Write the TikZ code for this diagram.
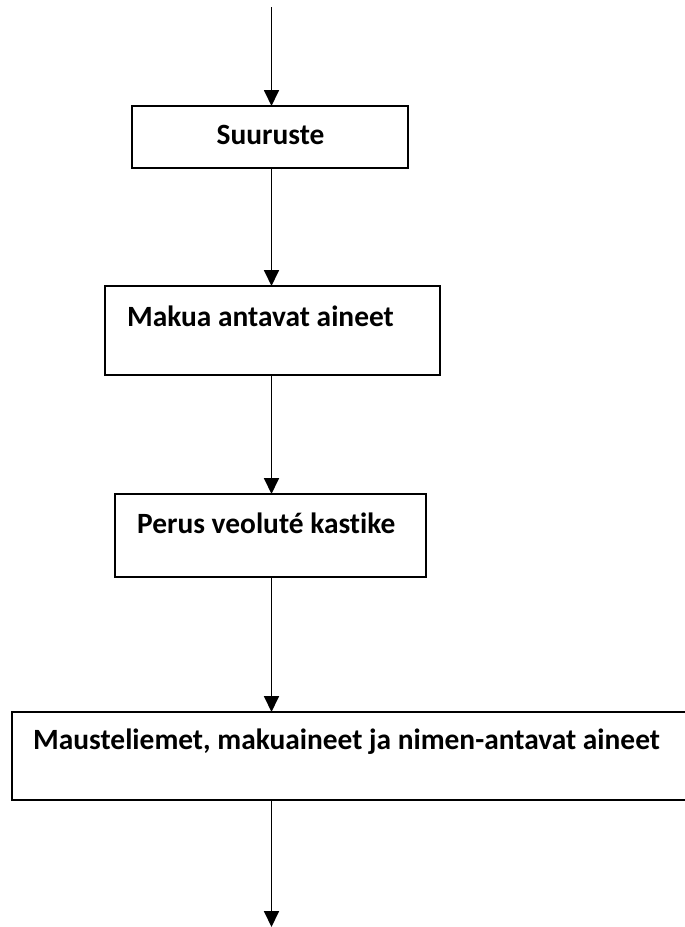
\documentclass[tikz,border=0pt]{standalone}
\usepackage{fontspec}
\setmainfont{Carlito}[Ligatures={NoCommon}]
\usetikzlibrary{arrows.meta}
\begin{document}
\begin{tikzpicture}[x=1pt,y=-1pt,
  boxstyle/.style={draw=black,line width=2pt,inner sep=0pt,outer sep=0pt,rectangle},
  lbl/.style={inner sep=0pt,anchor=base west,font=\bfseries\fontsize{29.4}{35}\selectfont},
  arr/.style={line width=1.8pt,-{Triangle[length=16pt,width=15pt]}}]
\clip (0,0) rectangle (685,927);
\useasboundingbox (0,0) rectangle (685,927);
% boxes
\node[boxstyle,minimum width=276pt,minimum height=62pt] (b1) at (270,137) {};
\node[boxstyle,minimum width=335pt,minimum height=89pt] (b2) at (272.5,330.5) {};
\node[boxstyle,minimum width=311pt,minimum height=83pt] (b3) at (270.5,535.5) {};
\node[boxstyle,minimum width=680pt,minimum height=88pt] (b4) at (352,756) {};
% labels
\node[lbl,anchor=base] (t1) at (270.5,144) {Suuruste};
\node[lbl] (t2) at (127,326) {Makua antavat aineet};
\node[lbl] (t3) at (137,533) {Perus veoluté kastike};
\node[lbl] (t4) at (33,749) {Mausteliemet, makuaineet ja nimen-antavat aineet};
% connectors
\coordinate (top) at (271.5,7);
\coordinate (bot) at (271.5,927);
\draw[arr] (top) -- (top |- b1.north);
\draw[arr] (top |- b1.south) -- (top |- b2.north);
\draw[arr] (top |- b2.south) -- (top |- b3.north);
\draw[arr] (top |- b3.south) -- (top |- b4.north);
\draw[arr] (top |- b4.south) -- (bot);
\end{tikzpicture}
\end{document}
